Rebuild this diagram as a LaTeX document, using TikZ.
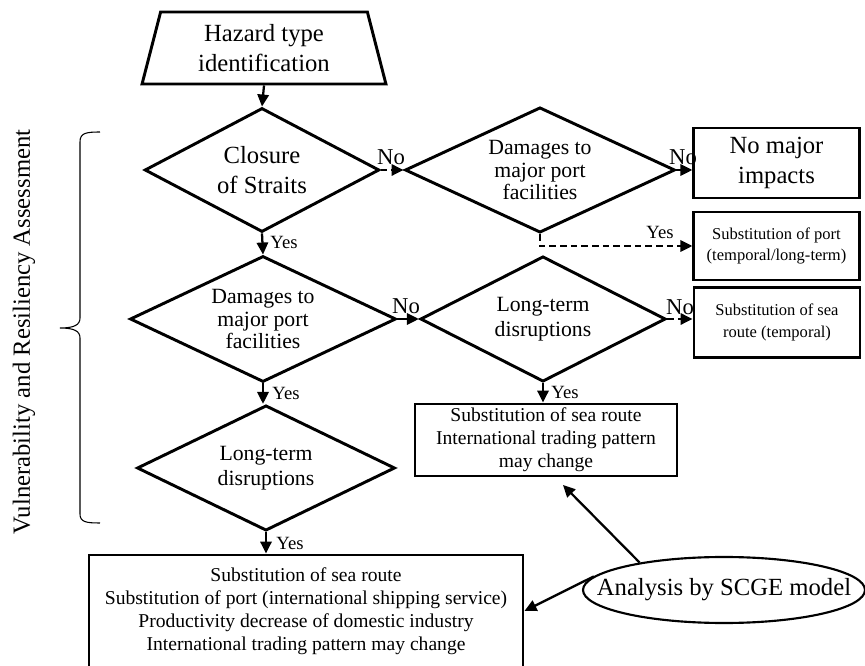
\documentclass[tikz,border=0pt]{standalone}
\usepackage{fontspec}
\setmainfont{Liberation Serif}
\usetikzlibrary{shapes.geometric,arrows.meta}

\newcommand{\fbig}{\fontsize{18.5}{22.5}\selectfont}
\newcommand{\fmid}{\fontsize{16.3}{17}\selectfont}
\newcommand{\fmidb}{\fontsize{16.3}{19}\selectfont}
\newcommand{\fsmall}{\fontsize{12.4}{16}\selectfont}
\newcommand{\fres}{\fontsize{14.7}{17.2}\selectfont}
\newcommand{\fno}{\fontsize{17}{17}\selectfont}
\newcommand{\fyes}{\fontsize{14}{14}\selectfont}

\tikzset{
  rbox/.style={draw, line width=2.2pt, inner sep=0pt, align=center},
  dia/.style={draw, diamond, line width=2.2pt, inner sep=0pt},
  txt/.style={align=center, inner sep=0pt},
  arr/.style={line width=1.7pt, -{Triangle[length=9pt,width=8.5pt]}},
  darr/.style={arr, dash pattern=on 5pt off 3pt},
}

\begin{document}
\begin{tikzpicture}[x=0.75pt,y=-0.75pt]
\useasboundingbox (0,0) rectangle (865,666);

%inizio
\node[draw, trapezium, trapezium left angle=76, trapezium right angle=76,
  trapezium stretches=true, minimum width=183pt, minimum height=54pt,
  line width=2.2pt, inner sep=0pt, align=center, font=\fbig] (haz) at (264,48)
  {Hazard type\\identification};

%rombi colonna sinistra
\node[dia, minimum width=176pt, minimum height=93pt] (d1) at (262,170) {};
\node[txt, font=\fbig] (d1t) at (d1) {Closure\\of Straits};

\node[dia, minimum width=199.5pt, minimum height=94.5pt] (d3) at (263,319) {};
\node[txt, font=\fmid] (d3t) at (d3) {Damages to\\major port\\facilities};

\node[dia, minimum width=193.5pt, minimum height=94pt] (d5) at (266,468) {};
\node[txt, font=\fmidb] (d5t) at (d5) {Long-term\\disruptions};

%rombi colonna centrale
\node[dia, minimum width=202.5pt, minimum height=94pt] (d2) at (540,170) {};
\node[txt, font=\fmid] (d2t) at (d2) {Damages to\\major port\\facilities};

\node[dia, minimum width=184pt, minimum height=94pt] (d4) at (543,319) {};
\node[txt, font=\fmidb] (d4t) at (d4) {Long-term\\disruptions};

%risultati
\node[rbox, minimum width=124pt, minimum height=52.5pt, font=\fbig] (nomaj) at (776.5,163) {No major\\impacts};
\node[rbox, minimum width=124pt, minimum height=51pt, font=\fsmall] (subport) at (776.5,246) {Substitution of port\\(temporal/long-term)};
\node[rbox, minimum width=124.5pt, minimum height=52pt, font=\fsmall] (subsea) at (777,322.5) {Substitution of sea\\route (temporal)};
\node[rbox, minimum width=196.5pt, minimum height=54pt, font=\fres] (res1) at (546,440) {Substitution of sea route\\International trading pattern\\may change};
\node[rbox, minimum width=325.5pt, minimum height=84pt, font=\fres] (res2) at (306,611) {Substitution of sea route\\Substitution of port (international shipping service)\\Productivity decrease of domestic industry\\International trading pattern may change};

%modello
\node[draw, ellipse, line width=1.6pt, minimum width=211.5pt, minimum height=49.5pt, inner sep=0pt] (scge) at (724,590) {};
\node[txt, font=\fbig] (scget) at (scge) {Analysis by SCGE model};

%parentesi
\node[rotate=90, inner sep=0pt, font=\fbig] (vra) at (24,332) {Vulnerability and Resiliency Assessment};
\draw[line width=0.8pt] (100,132) .. controls (86,132) and (80,133) .. (80,142) -- (80,318)
  .. controls (80,325) and (74,328) .. (60,328) .. controls (74,328) and (80,331) .. (80,338)
  -- (80,514) .. controls (80,522) and (86,523) .. (100,523);

%frecce
\draw[arr] (haz.south) -- (d1.north);
\draw[darr] (d1.east) -- (d2.west);
\draw[darr] (d2.east) -- (d2.east -| nomaj.west);
\draw[darr] (d2.south) |- (subport.west);
\draw[arr] (d1.south) -- (d3.north);
\draw[arr] (d3.east) -- (d4.west);
\draw[darr] (d4.east) -- (d4.east -| subsea.west);
\draw[arr] (d4.south) -- (d4.south |- res1.north);
\draw[arr] (d3.south) -- (d3.south |- d5.north);
\draw[arr] (d5.south) -- (d5.south |- res2.north);

\coordinate (res1in) at (563,485);
\draw[arr] (scge.162) -- (res1in);
\draw[arr] (scge.174) -- (res2.east);

%etichette
\node[font=\fno, inner sep=0pt] (no1) at (391,157) {No};
\node[font=\fno, inner sep=0pt] (no2) at (683,157) {No};
\node[font=\fno, inner sep=0pt] (no3) at (406,306) {No};
\node[font=\fno, inner sep=0pt] (no4) at (680,307) {No};
\node[font=\fyes, inner sep=0pt] (yes1) at (660,232) {Yes};
\node[font=\fyes, inner sep=0pt] (yes2) at (284,242) {Yes};
\node[font=\fyes, inner sep=0pt] (yes3) at (565,392) {Yes};
\node[font=\fyes, inner sep=0pt] (yes4) at (286,393) {Yes};
\node[font=\fyes, inner sep=0pt] (yes5) at (290,543) {Yes};

\end{tikzpicture}
\end{document}
